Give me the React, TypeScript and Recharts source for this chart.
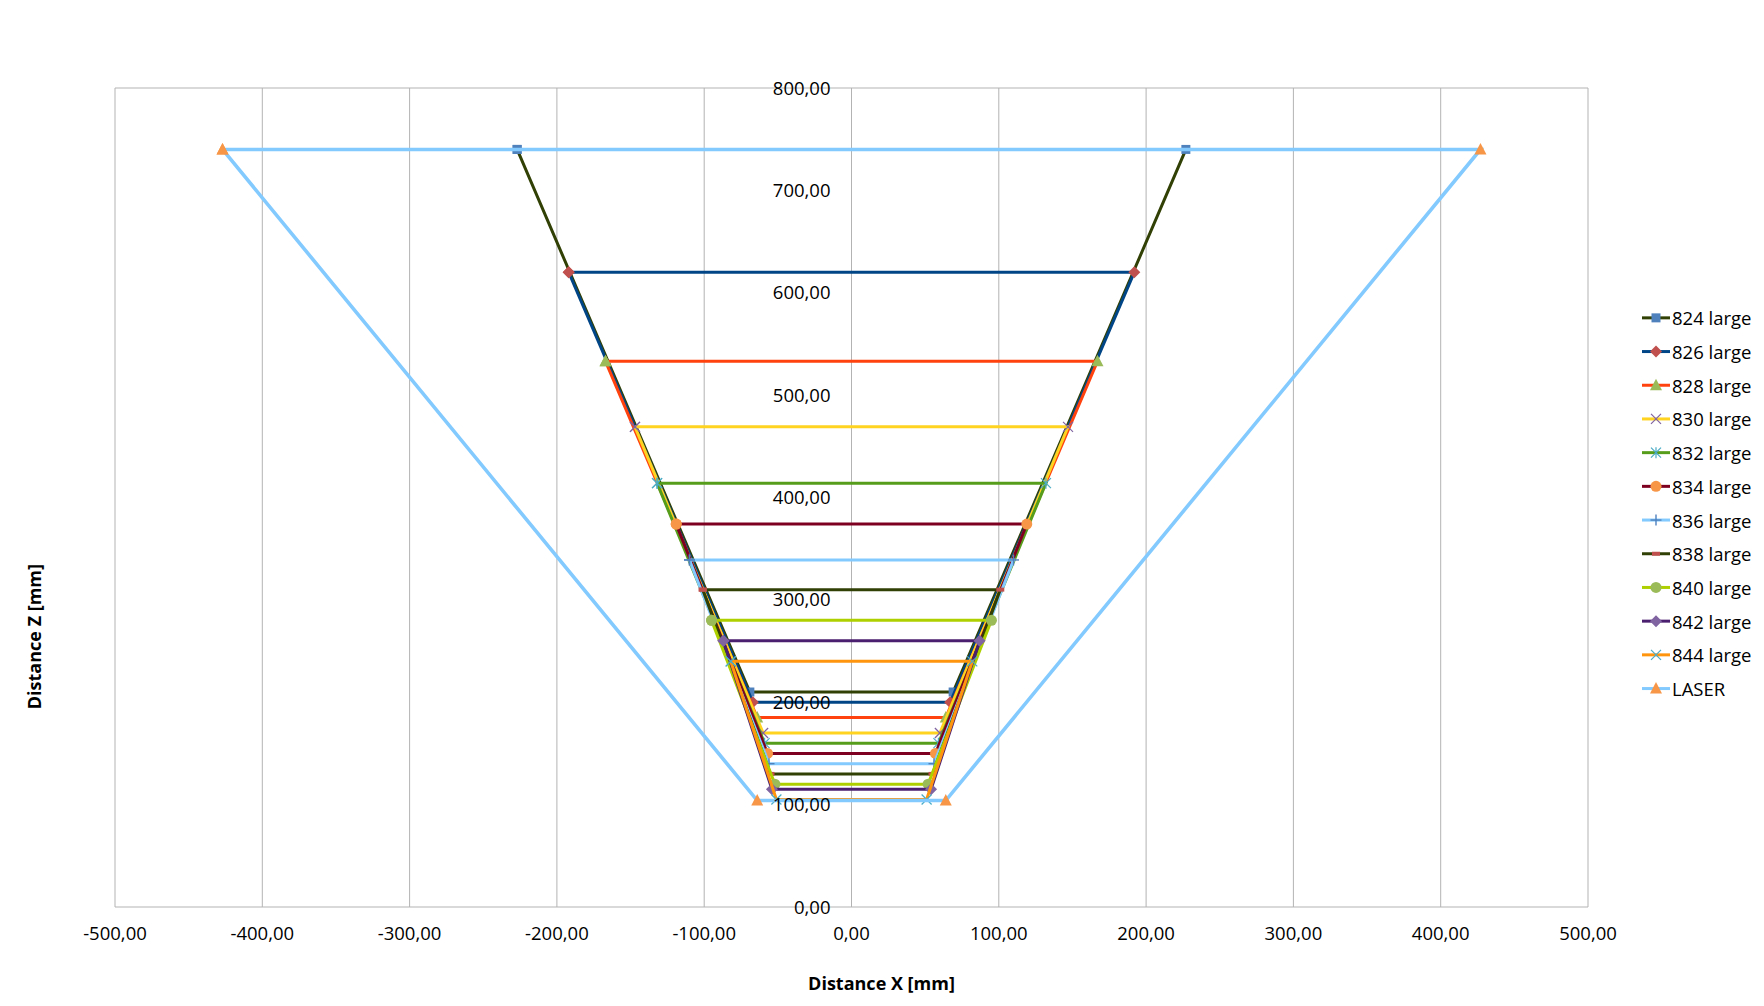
import React from 'react';
import { ScatterChart, Scatter, XAxis, YAxis, CartesianGrid, Legend, ReferenceDot } from 'recharts';

const seriesNames = ['824 large', '826 large', '828 large', '830 large', '832 large', '834 large', '836 large', '838 large', '840 large', '842 large', '844 large', 'LASER'];
const topX = [227, 192, 167, 147, 132, 119, 110, 101, 95, 87, 82, 427];
const topZ = [740, 620, 533, 469, 414, 374, 339, 310, 280, 260, 240, 740];
const bottomX = [69, 67, 64, 60, 59, 57, 56, 55, 52, 54, 51, 64];
const bottomZ = [210, 200, 185, 170, 160, 150, 140, 130, 120, 115, 105, 104];

const lineColors = ['#314004', '#004586', '#FF420E', '#FFD320', '#579D1C', '#7E0021', '#83CAFF', '#314004', '#AECF00', '#4B1F6F', '#FF950E', '#83CAFF'];
const lineWidths = [3, 3, 3, 3, 3, 3, 3, 3, 3, 3, 3, 3.6];
const markerKinds = ['square', 'diamond', 'triangle', 'x', 'star', 'circle', 'plus', 'dash', 'circle', 'diamond', 'x', 'triangle'];
const markerColors = ['#4F81BD', '#C0504D', '#9BBB59', '#8064A2', '#4BACC6', '#F79646', '#4F81BD', '#C0504D', '#9BBB59', '#8064A2', '#4BACC6', '#F79646'];

const xTicks = [-500, -400, -300, -200, -100, 0, 100, 200, 300, 400, 500];
const yTicks = [0, 100, 200, 300, 400, 500, 600, 700, 800];

const FONT = '"Open Sans", "Noto Sans", sans-serif';
const fmt = (v: number) => v.toFixed(2).replace('.', ',');

const seriesData = seriesNames.map((name, i) => [
  { x: -topX[i], y: topZ[i] },
  { x: -bottomX[i], y: bottomZ[i] },
  { x: bottomX[i], y: bottomZ[i] },
  { x: topX[i], y: topZ[i] },
  { x: -topX[i], y: topZ[i] },
]);

function drawMarker(kind: string, color: string, cx: number, cy: number) {
  switch (kind) {
    case 'square':
      return <rect x={cx - 4.5} y={cy - 4.5} width={9} height={9} fill={color} />;
    case 'diamond':
      return <polygon points={`${cx},${cy - 6} ${cx + 6},${cy} ${cx},${cy + 6} ${cx - 6},${cy}`} fill={color} />;
    case 'triangle':
      return <polygon points={`${cx},${cy - 6.5} ${cx + 6},${cy + 5} ${cx - 6},${cy + 5}`} fill={color} />;
    case 'x':
      return (
        <g stroke={color} strokeWidth={1.2}>
          <line x1={cx - 5} y1={cy - 5} x2={cx + 5} y2={cy + 5} />
          <line x1={cx - 5} y1={cy + 5} x2={cx + 5} y2={cy - 5} />
        </g>
      );
    case 'star':
      return (
        <g stroke={color} strokeWidth={1.2}>
          <line x1={cx - 5} y1={cy - 5} x2={cx + 5} y2={cy + 5} />
          <line x1={cx - 5} y1={cy + 5} x2={cx + 5} y2={cy - 5} />
          <line x1={cx} y1={cy - 5.5} x2={cx} y2={cy + 5.5} />
        </g>
      );
    case 'circle':
      return <circle cx={cx} cy={cy} r={5.5} fill={color} />;
    case 'plus':
      return (
        <g stroke={color} strokeWidth={1.4}>
          <line x1={cx - 5.5} y1={cy} x2={cx + 5.5} y2={cy} />
          <line x1={cx} y1={cy - 5.5} x2={cx} y2={cy + 5.5} />
        </g>
      );
    case 'dash':
      return <rect x={cx - 4} y={cy - 2} width={8} height={4} fill={color} />;
    default:
      return <circle cx={cx} cy={cy} r={4} fill={color} />;
  }
}

const ROW = 33.7;

function LegendContent() {
  return (
    <svg width={130} height={ROW * seriesNames.length} style={{ display: 'block' }}>
      {seriesNames.map((name, i) => {
        const cy = ROW / 2 + i * ROW;
        return (
          <g key={name}>
            <line x1={6} y1={cy} x2={34} y2={cy} stroke={lineColors[i]} strokeWidth={3} />
            {drawMarker(markerKinds[i], markerColors[i], 20, cy)}
            <text x={36} y={cy} dominantBaseline="central" fontFamily={FONT} fontSize={18.5} fill="#000">
              {name}
            </text>
          </g>
        );
      })}
    </svg>
  );
}

export default function App() {
  return (
    <div style={{ width: 1748, height: 990, fontFamily: FONT, background: '#fff' }}>
      <ScatterChart width={1748} height={990} margin={{ top: 80, right: 168, bottom: 0, left: 0 }}>
        <CartesianGrid stroke="#B3B3B3" strokeWidth={1} />
        <XAxis
          type="number"
          dataKey="x"
          domain={[-500, 500]}
          ticks={xTicks}
          interval={0}
          height={91}
          axisLine={false}
          tickLine={false}
          tickSize={0}
          tickMargin={20}
          tickFormatter={fmt}
          tick={{ fill: '#000', fontSize: 18.5, fontFamily: FONT }}
          label={{
            content: (p: any) => {
              const vb = p.viewBox || { x: 107, y: 899, width: 1473, height: 91 };
              return (
                <text x={vb.x + vb.width / 2 + 30} y={982} textAnchor="middle" fontFamily={FONT} fontWeight="bold" fontSize={18} fill="#000">
                  Distance X [mm]
                </text>
              );
            },
          }}
        />
        <YAxis
          type="number"
          dataKey="y"
          domain={[0, 800]}
          ticks={yTicks}
          interval={0}
          width={107}
          axisLine={false}
          tickLine={false}
          tick={false}
          label={{
            content: () => (
              <text x={26} y={628.6} transform="rotate(-90 26 628.6)" textAnchor="middle" dominantBaseline="central" fontFamily={FONT} fontWeight="bold" fontSize={18} fill="#000">
                Distance Z [mm]
              </text>
            ),
          }}
        />
        {yTicks.map((v) => (
          <ReferenceDot
            key={`yl${v}`}
            x={0}
            y={v}
            r={1}
            fill="none"
            stroke="none"
            label={{ value: fmt(v), position: 'left', offset: 20, fill: '#000', fontSize: 18.5, fontFamily: FONT }}
          />
        ))}
        {seriesNames.map((name, i) => (
          <Scatter
            key={name}
            name={name}
            data={seriesData[i]}
            line={{ stroke: lineColors[i], strokeWidth: lineWidths[i] }}
            lineType="joint"
            isAnimationActive={false}
            shape={(p: any) => drawMarker(markerKinds[i], markerColors[i], p.cx, p.cy)}
          />
        ))}
        <Legend
          layout="vertical"
          align="center"
          verticalAlign="middle"
          content={() => <LegendContent />}
          wrapperStyle={{ position: 'absolute', left: 1628, top: 292.5, width: 130 }}
        />
      </ScatterChart>
    </div>
  );
}
